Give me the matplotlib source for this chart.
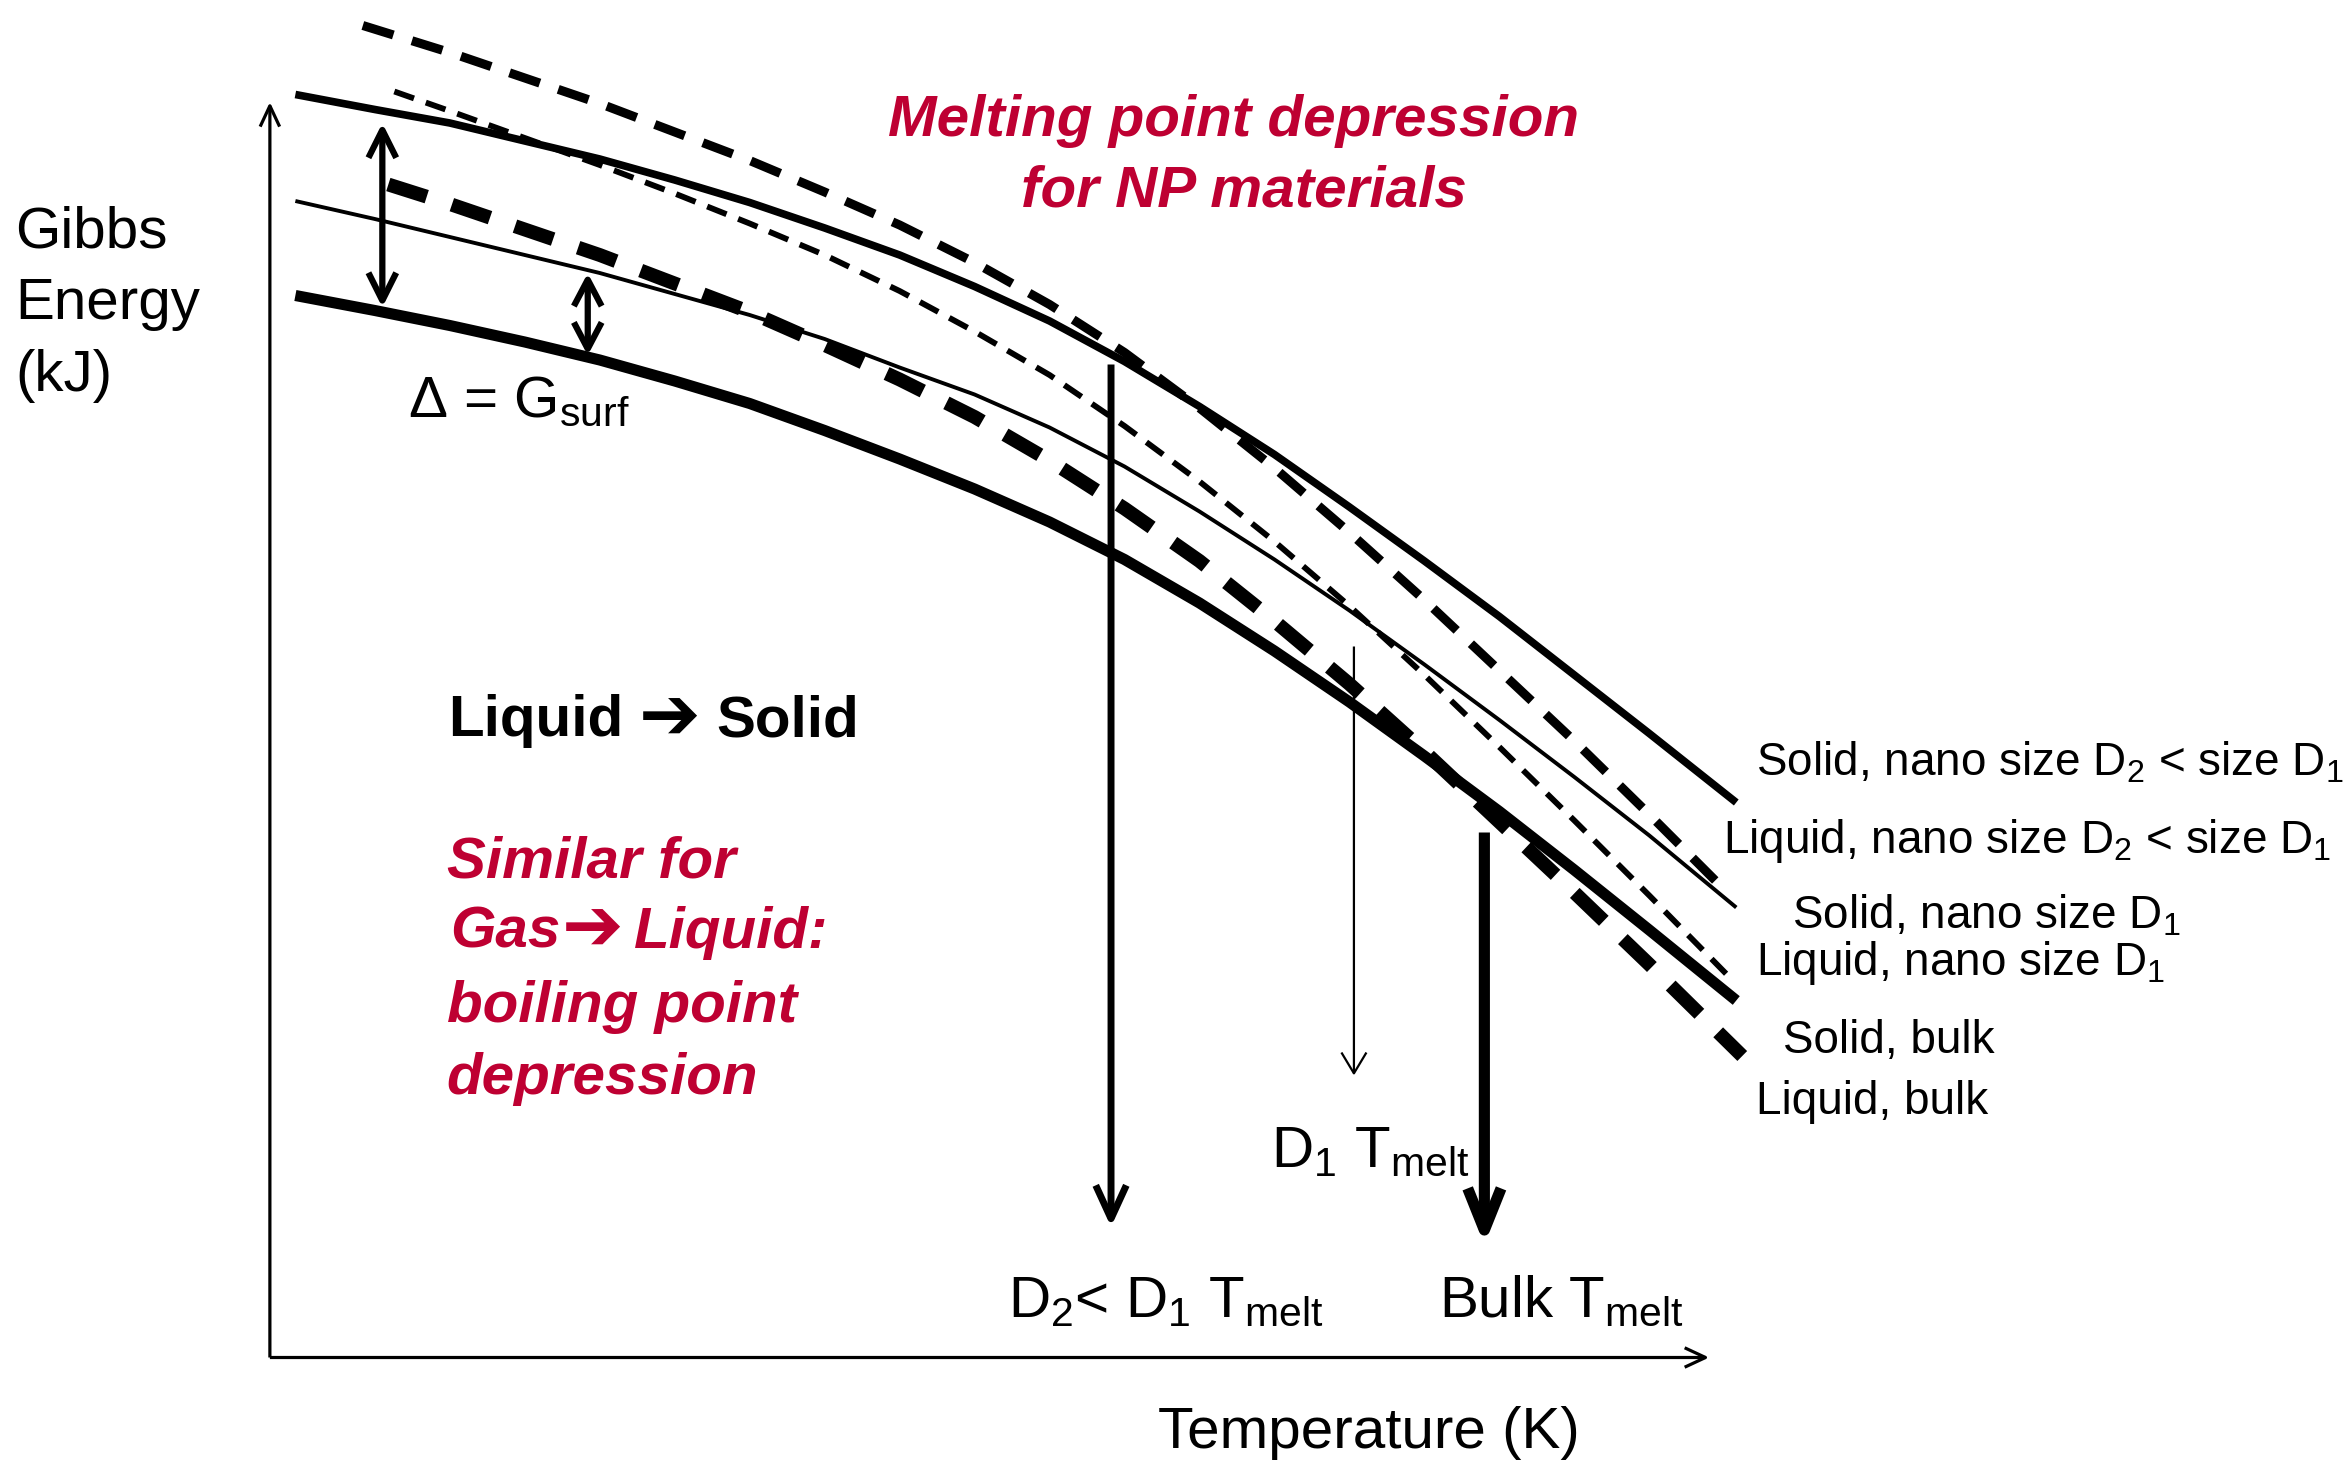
import matplotlib
matplotlib.use("Agg")
import matplotlib.pyplot as plt
from matplotlib.patches import FancyArrowPatch

plt.rcParams["font.family"] = ["Liberation Sans", "DejaVu Sans"]
plt.rcParams["mathtext.fontset"] = "custom"
plt.rcParams["mathtext.rm"] = "Liberation Sans"
plt.rcParams["mathtext.it"] = "Liberation Sans:italic"
plt.rcParams["mathtext.bf"] = "Liberation Sans:bold"
plt.rcParams["lines.scale_dashes"] = False

# ---------------------------------------------------------------
#  Schematic curves G(T), arbitrary units (origin = axes corner)
# ---------------------------------------------------------------
t_solid_d2 = [17, 70, 120, 170, 220, 270, 320, 370, 420, 470, 520, 570, 620, 670, 720, 770, 820, 870, 920, 978]
g_solid_d2 = [842, 832, 823, 811, 799, 785, 770, 753, 735, 714, 691, 664, 634, 602, 567, 531, 494, 455, 416, 370]

t_liquid_d2 = [62, 120, 170, 220, 270, 320, 370, 420, 470, 520, 570, 620, 670, 720, 770, 820, 870, 920, 965]
g_liquid_d2 = [888, 870, 853, 836, 817, 798, 777, 755, 730, 702, 670, 633, 593, 550, 505, 458, 411, 362, 317]

t_solid_d1 = [17, 70, 120, 170, 220, 270, 320, 370, 420, 470, 520, 570, 620, 670, 720, 770, 820, 870, 920, 978]
g_solid_d1 = [771, 759, 747, 735, 723, 709, 695, 679, 660, 642, 620, 594, 564, 532, 498, 462, 425, 387, 348, 300]

t_liquid_d1 = [83, 120, 170, 220, 270, 320, 370, 420, 470, 520, 570, 620, 670, 720, 770, 820, 870, 920, 975]
g_liquid_d1 = [844, 831, 813, 795, 776, 756, 735, 711, 684, 655, 621, 584, 544, 501, 455, 407, 358, 308, 252]

t_solid_bulk = [17, 70, 120, 170, 220, 270, 320, 370, 420, 470, 520, 570, 620, 670, 720, 770, 820, 870, 920, 978]
g_solid_bulk = [708, 698, 688, 677, 665, 651, 636, 618, 599, 579, 557, 532, 503, 471, 437, 401, 364, 325, 285, 238]

t_liquid_bulk = [79, 120, 170, 220, 270, 320, 370, 420, 470, 520, 570, 620, 670, 720, 770, 820, 870, 920, 982]
g_liquid_bulk = [782, 769, 752, 735, 716, 697, 675, 652, 627, 598, 566, 531, 491, 449, 404, 357, 310, 262, 201]

# melting temperatures (arrow positions)
t_melt_d2, t_melt_d1, t_melt_bulk = 561, 723, 810

curve_labels = [
    "Solid, nano size D$_2$ < size D$_1$",
    "Liquid, nano size D$_2$ < size D$_1$",
    "Solid, nano size D$_1$",
    "Liquid, nano size D$_1$",
    "Solid, bulk",
    "Liquid, bulk",
]
label_x = [991, 969, 1015, 991, 1009, 991]
label_y = [388, 336, 286, 255, 203, 162]

RED = "#BE0032"

fig = plt.figure(figsize=(23.51, 14.76), dpi=100)
ax = fig.add_axes([0, 0, 1, 1])
ax.set_xlim(-180, 1388)
ax.set_ylim(-79, 905)
ax.axis("off")

# curves
ax.plot(t_solid_d2, g_solid_d2, color="k", lw=5.5, solid_capstyle="butt")
ax.plot(t_liquid_d2, g_liquid_d2, color="k", lw=6.5, dashes=(23, 14))
ax.plot(t_solid_d1, g_solid_d1, color="k", lw=2.8, solid_capstyle="butt")
ax.plot(t_liquid_d1, g_liquid_d1, color="k", lw=4.2, dashes=(15, 9))
ax.plot(t_solid_bulk, g_solid_bulk, color="k", lw=8.0, solid_capstyle="butt")
ax.plot(t_liquid_bulk, g_liquid_bulk, color="k", lw=10.0, dashes=(29, 19))


def arrow(p0, p1, style, lw, hl, hw):
    ax.add_patch(FancyArrowPatch(p0, p1, arrowstyle=f"{style},head_length={hl},head_width={hw}",
                                 mutation_scale=1, lw=lw, color="k",
                                 shrinkA=0, shrinkB=0, capstyle="butt"))


# axes with open arrow heads
arrow((0, 0), (0, 837), "->", 2.3, 15, 7)
arrow((0, 0), (960, 0), "->", 2.3, 15, 7)

# surface energy gaps
arrow((75, 700), (75, 823), "<->", 4.5, 20, 10)
arrow((212, 668), (212, 723), "<->", 4.5, 19, 10)

# melting points
arrow((t_melt_d2, 662), (t_melt_d2, 87), "->", 5.0, 24, 11)
arrow((t_melt_d1, 474), (t_melt_d1, 188), "->", 1.6, 15, 9)
arrow((t_melt_bulk, 350), (t_melt_bulk, 75), "->", 8.0, 30, 12)

# texts
big = 42
for txt, y in zip(["Gibbs", "Energy", "(kJ)"], [740, 692, 644]):
    ax.text(-170, y, txt, fontsize=big, va="baseline")
ax.text(92, 627, r"Δ = G$_\mathrm{surf}$", fontsize=big, va="baseline")
ax.text(412, 814, "Melting point depression", fontsize=big, color=RED,
        fontweight="bold", style="italic", va="baseline")
ax.text(501, 767, "for NP materials", fontsize=big, color=RED,
        fontweight="bold", style="italic", va="baseline")

ax.text(119, 414, "Liquid", fontsize=big, fontweight="bold", va="baseline")
ax.text(246, 412, "➔", fontsize=53, family="DejaVu Sans", va="baseline")
ax.text(298, 414, "Solid", fontsize=big, fontweight="bold", va="baseline")

ax.text(118, 320, "Similar for", fontsize=big, color=RED, fontweight="bold",
        style="italic", va="baseline")
ax.text(120, 273, "Gas", fontsize=big, color=RED, fontweight="bold",
        style="italic", va="baseline")
ax.text(195, 271, "➔", fontsize=53, color=RED, family="DejaVu Sans",
        va="baseline")
ax.text(243, 273, "Liquid:", fontsize=big, color=RED, fontweight="bold",
        style="italic", va="baseline")
for txt, y in zip(["boiling point", "depression"], [224, 176]):
    ax.text(118, y, txt, fontsize=big, color=RED, fontweight="bold",
            style="italic", va="baseline")

for txt, x, y in zip(curve_labels, label_x, label_y):
    ax.text(x, y, txt, fontsize=33, va="baseline")

ax.text(668, 127, r"D$_1$ T$_\mathrm{melt}$", fontsize=big, va="baseline")
ax.text(492, 27, r"D$_2$< D$_1$ T$_\mathrm{melt}$", fontsize=big, va="baseline")
ax.text(780, 27, r"Bulk T$_\mathrm{melt}$", fontsize=big, va="baseline")
ax.text(592, -60, "Temperature (K)", fontsize=big, va="baseline")

fig.savefig("out.png", dpi=100, facecolor="white")
